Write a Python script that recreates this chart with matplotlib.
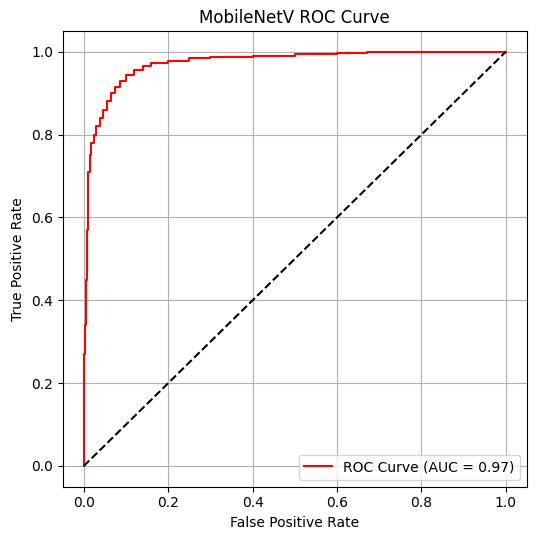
import matplotlib
matplotlib.use("Agg")
import matplotlib.pyplot as plt

# ROC curve values
fpr = [0.0, 0.0, 0.003, 0.005, 0.007, 0.009, 0.011, 0.014, 0.018, 0.024, 0.03, 0.038,
       0.046, 0.055, 0.065, 0.075, 0.085, 0.1, 0.12, 0.14, 0.16, 0.2, 0.25, 0.3,
       0.4, 0.5, 0.6, 0.67, 0.8, 1.0]
tpr = [0.0, 0.27, 0.34, 0.45, 0.57, 0.65, 0.71, 0.75, 0.78, 0.80, 0.82, 0.84,
       0.86, 0.88, 0.90, 0.915, 0.93, 0.945, 0.955, 0.965, 0.973, 0.978, 0.985, 0.988,
       0.991, 0.994, 0.997, 1.0, 1.0, 1.0]
auc = 0.97

fig, ax = plt.subplots(figsize=(5.36, 5.45), dpi=100)
ax.plot(fpr, tpr, color='red', label=f'ROC Curve (AUC = {auc:.2f})', drawstyle='steps-post')
ax.plot([0, 1], [0, 1], 'k--')
ax.set_xlabel('False Positive Rate')
ax.set_ylabel('True Positive Rate')
ax.set_title('MobileNetV ROC Curve')
ax.legend(loc='lower right')
ax.grid(True)
plt.subplots_adjust(left=0.117, right=0.983, top=0.943, bottom=0.107)
plt.savefig('out.png', dpi=100)
